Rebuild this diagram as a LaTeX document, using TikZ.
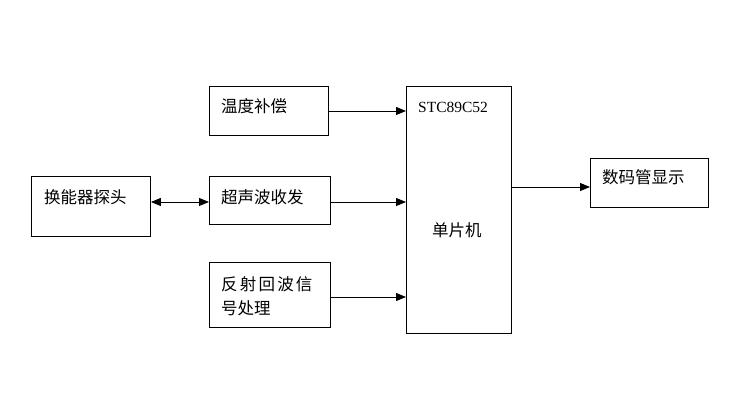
\documentclass[tikz,border=0pt]{standalone}
\usepackage{fontspec}
\setmainfont{Liberation Serif}
\newfontfamily\cjk{Noto Sans CJK SC}
\usetikzlibrary{arrows.meta}
\begin{document}
\begin{tikzpicture}[x=1pt,y=-1pt,
  box/.style={draw=black,line width=0.9pt,rectangle,anchor=north west,inner sep=0pt},
  txt/.style={anchor=west,inner sep=0pt,font=\cjk\fontsize{16.5}{19}\selectfont},
  arr/.style={line width=0.9pt,-{Triangle[length=10pt,width=8pt]}},
  darr/.style={line width=0.9pt,{Triangle[length=10pt,width=8pt]}-{Triangle[length=10pt,width=8pt]}}]
\useasboundingbox (0,0) rectangle (756,419);
\node[box,minimum width=119pt,minimum height=49pt] (temp) at (209,86) {};
\node[box,minimum width=119pt,minimum height=60pt] (probe) at (31,176) {};
\node[box,minimum width=121pt,minimum height=48pt] (us) at (209,176) {};
\node[box,minimum width=121pt,minimum height=65pt] (echo) at (209,262) {};
\node[box,minimum width=105pt,minimum height=247pt] (mcu) at (406,86) {};
\node[box,minimum width=118pt,minimum height=49pt] (disp) at (590,158) {};
\node[txt] (tempL) at (221,106) {温度补偿};
\node[txt] (probeL) at (44,197) {换能器探头};
\node[txt] (usL) at (221,197) {超声波收发};
\node[txt] (echoL1) at (221,284) {反\hspace{2.2pt}射\hspace{2.2pt}回\hspace{2.2pt}波\hspace{2.2pt}信};
\node[txt] (echoL2) at (221,308) {号处理};
\node[anchor=west,inner sep=0pt,font=\fontsize{15.5}{18}\selectfont] (mcuL1) at (418,107) {STC89C52};
\node[txt] (mcuL2) at (432,230) {单片机};
\node[txt] (dispL) at (602,177) {数码管显示};
\coordinate (tY) at (0,111);
\coordinate (uY) at (0,202);
\coordinate (eY) at (0,297);
\coordinate (oY) at (0,187);
\draw[arr] (temp.east |- tY) -- (mcu.west |- tY);
\draw[arr] (us.east |- uY) -- (mcu.west |- uY);
\draw[arr] (echo.east |- eY) -- (mcu.west |- eY);
\draw[arr] (mcu.east |- oY) -- (disp.west |- oY);
\draw[darr] (probe.east |- uY) -- (us.west |- uY);
\end{tikzpicture}
\end{document}
